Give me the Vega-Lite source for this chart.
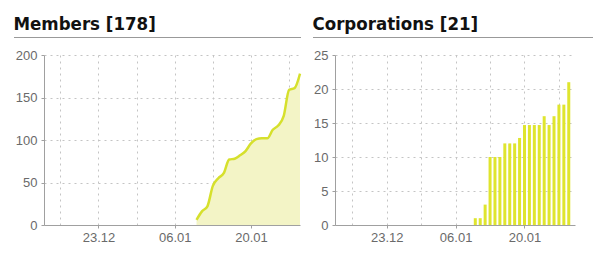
{
  "$schema": "https://vega.github.io/schema/vega-lite/v6.json",
  "padding": {"left": 13, "top": 14, "right": 0, "bottom": 0},
  "background": "white",
  "datasets": {
    "members": [
      {"date": "2013-01-10", "count": 6},
      {"date": "2013-01-11", "count": 16},
      {"date": "2013-01-12", "count": 22},
      {"date": "2013-01-13", "count": 46},
      {"date": "2013-01-14", "count": 55},
      {"date": "2013-01-15", "count": 61},
      {"date": "2013-01-16", "count": 77},
      {"date": "2013-01-17", "count": 78},
      {"date": "2013-01-18", "count": 82},
      {"date": "2013-01-19", "count": 87},
      {"date": "2013-01-20", "count": 96},
      {"date": "2013-01-21", "count": 101},
      {"date": "2013-01-22", "count": 102},
      {"date": "2013-01-23", "count": 102},
      {"date": "2013-01-24", "count": 112},
      {"date": "2013-01-25", "count": 117},
      {"date": "2013-01-26", "count": 128},
      {"date": "2013-01-27", "count": 159},
      {"date": "2013-01-28", "count": 161},
      {"date": "2013-01-29", "count": 178}
    ],
    "corps": [
      {"date": "2013-01-10", "count": 1},
      {"date": "2013-01-11", "count": 1},
      {"date": "2013-01-12", "count": 3},
      {"date": "2013-01-13", "count": 10},
      {"date": "2013-01-14", "count": 10},
      {"date": "2013-01-15", "count": 10},
      {"date": "2013-01-16", "count": 12},
      {"date": "2013-01-17", "count": 12},
      {"date": "2013-01-18", "count": 12},
      {"date": "2013-01-19", "count": 12.8},
      {"date": "2013-01-20", "count": 14.7},
      {"date": "2013-01-21", "count": 14.7},
      {"date": "2013-01-22", "count": 14.7},
      {"date": "2013-01-23", "count": 14.7},
      {"date": "2013-01-24", "count": 16},
      {"date": "2013-01-25", "count": 14.7},
      {"date": "2013-01-26", "count": 16},
      {"date": "2013-01-27", "count": 17.7},
      {"date": "2013-01-28", "count": 17.7},
      {"date": "2013-01-29", "count": 21}
    ]
  },
  "spacing": 7,
  "hconcat": [
    {
      "spacing": 11,
      "vconcat": [
        {
          "width": 256,
          "height": 1,
          "title": {"text": "Members [178]"},
          "data": {"values": [{"v": 0}]},
          "mark": {"type": "rule", "color": "#999999", "strokeWidth": 1},
          "encoding": {
            "x": {"datum": 0, "type": "quantitative", "scale": {"domain": [0, 1], "range": [-30, 257], "nice": false, "zero": false}, "axis": null},
            "x2": {"datum": 1}
          }
        },
        {
          "width": 256,
          "height": 170,
          "data": {"name": "members"},
          "encoding": {
            "x": {
              "field": "date",
              "type": "temporal",
              "scale": {"type": "utc", "nice": false, "domain": [{"year": 2012, "month": 12, "date": 13, "utc": true}, {"year": 2013, "month": 1, "date": 29, "utc": true}]},
              "axis": {
                "title": null,
                "values": [
                  {"year": 2012, "month": 12, "date": 16, "utc": true},
                  {"year": 2012, "month": 12, "date": 23, "utc": true},
                  {"year": 2012, "month": 12, "date": 30, "utc": true},
                  {"year": 2013, "month": 1, "date": 6, "utc": true},
                  {"year": 2013, "month": 1, "date": 13, "utc": true},
                  {"year": 2013, "month": 1, "date": 20, "utc": true},
                  {"year": 2013, "month": 1, "date": 27, "utc": true}
                ],
                "labelExpr": "(utcdate(datum.value) == 23 || utcdate(datum.value) == 6 || utcdate(datum.value) == 20) ? utcFormat(datum.value, '%d.%m') : ''",
                "tickOpacity": {"condition": {"test": "utcdate(datum.value) == 23 || utcdate(datum.value) == 6 || utcdate(datum.value) == 20", "value": 1}, "value": 0}
              }
            },
            "y": {
              "field": "count",
              "type": "quantitative",
              "scale": {"domain": [0, 200]},
              "axis": {"title": null, "values": [0, 50, 100, 150, 200], "minExtent": 30, "maxExtent": 30}
            }
          },
          "layer": [
            {"mark": {"type": "area", "color": "#f3f4c6", "interpolate": "monotone"}},
            {"mark": {"type": "line", "color": "#d6e02c", "strokeWidth": 2.5, "interpolate": "monotone"}}
          ]
        }
      ]
    },
    {
      "spacing": 11,
      "vconcat": [
        {
          "width": 240,
          "height": 1,
          "title": {"text": "Corporations [21]"},
          "data": {"values": [{"v": 0}]},
          "mark": {"type": "rule", "color": "#999999", "strokeWidth": 1},
          "encoding": {
            "x": {"datum": 0, "type": "quantitative", "scale": {"domain": [0, 1], "range": [-22, 258], "nice": false, "zero": false}, "axis": null},
            "x2": {"datum": 1}
          }
        },
        {
          "width": 240,
          "height": 170,
          "data": {"name": "corps"},
          "mark": {"type": "bar", "color": "#dfe52e", "size": 3},
          "encoding": {
            "x": {
              "field": "date",
              "type": "temporal",
              "scale": {"type": "utc", "nice": false, "domain": [{"year": 2012, "month": 12, "date": 13, "hours": 12, "utc": true}, {"year": 2013, "month": 1, "date": 29, "hours": 6, "utc": true}]},
              "axis": {
                "title": null,
                "values": [
                  {"year": 2012, "month": 12, "date": 16, "utc": true},
                  {"year": 2012, "month": 12, "date": 23, "utc": true},
                  {"year": 2012, "month": 12, "date": 30, "utc": true},
                  {"year": 2013, "month": 1, "date": 6, "utc": true},
                  {"year": 2013, "month": 1, "date": 13, "utc": true},
                  {"year": 2013, "month": 1, "date": 20, "utc": true},
                  {"year": 2013, "month": 1, "date": 27, "utc": true}
                ],
                "labelExpr": "(utcdate(datum.value) == 23 || utcdate(datum.value) == 6 || utcdate(datum.value) == 20) ? utcFormat(datum.value, '%d.%m') : ''",
                "tickOpacity": {"condition": {"test": "utcdate(datum.value) == 23 || utcdate(datum.value) == 6 || utcdate(datum.value) == 20", "value": 1}, "value": 0}
              }
            },
            "y": {
              "field": "count",
              "type": "quantitative",
              "scale": {"domain": [0, 25]},
              "axis": {"title": null, "values": [0, 5, 10, 15, 20, 25], "minExtent": 22, "maxExtent": 22}
            }
          }
        }
      ]
    }
  ],
  "config": {
    "view": {"stroke": null},
    "title": {"font": "DejaVu Sans Condensed", "fontWeight": "bold", "fontSize": 18.5, "color": "#111111", "anchor": "start", "frame": "bounds", "offset": 4},
    "axis": {
      "domainColor": "#a0a0a0",
      "tickColor": "#a0a0a0",
      "tickSize": 3,
      "labelColor": "#6a6a6a",
      "labelFont": "Liberation Sans",
      "labelFontSize": 13,
      "labelPadding": 3,
      "gridColor": "#c4c4c4",
      "gridDash": [2, 4],
      "grid": true
    },
    "axisY": {"labelPadding": 4}
  }
}
